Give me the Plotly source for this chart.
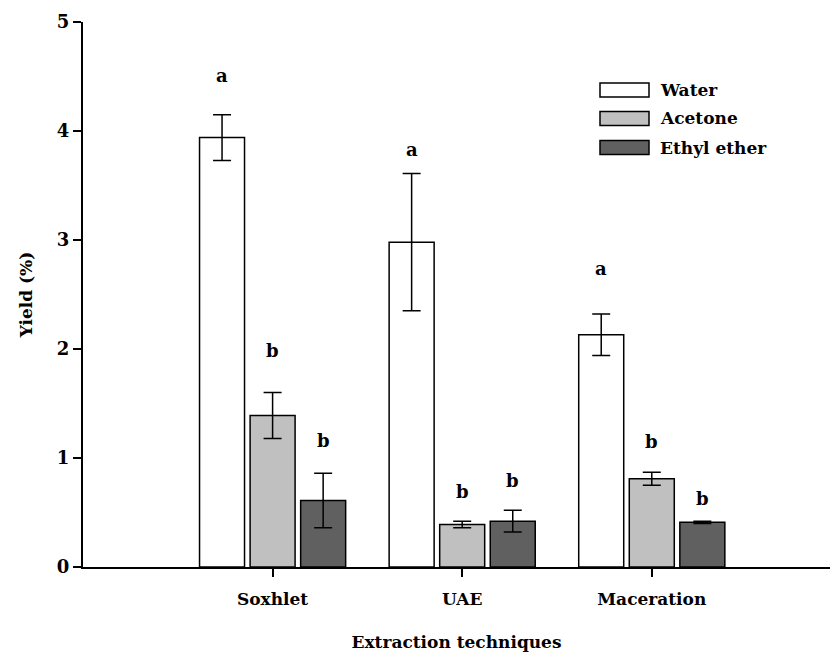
import plotly.graph_objects as go

categories = ["Soxhlet", "UAE", "Maceration"]
series_names = ["Water", "Acetone", "Ethyl ether"]
water = [3.94, 2.98, 2.13]
water_err = [0.21, 0.63, 0.19]
acetone = [1.39, 0.39, 0.81]
acetone_err = [0.21, 0.03, 0.06]
ethyl = [0.61, 0.42, 0.41]
ethyl_err = [0.25, 0.10, 0.01]
letters_water = ["a", "a", "a"]
letters_acetone = ["b", "b", "b"]
letters_ethyl = ["b", "b", "b"]
letter_y_water = [4.51, 3.83, 2.74]
letter_y_acetone = [1.99, 0.69, 1.15]
letter_y_ethyl = [1.16, 0.79, 0.63]
y_ticks = [0, 1, 2, 3, 4, 5]

colors = ["#ffffff", "#c0c0c0", "#606060"]
FONT = "DejaVu Serif"

W, H = 830, 652
L, R, T, B = 83, 0, 22, 85
plot_w = W - L - R
plot_h = H - T - B
py_bottom = H - B

fig = go.Figure()
values = [water, acetone, ethyl]
errs = [water_err, acetone_err, ethyl_err]
for name, v, e, c in zip(series_names, values, errs, colors):
    fig.add_trace(go.Bar(
        name=name, x=categories, y=v,
        marker=dict(color=c, line=dict(color="black", width=1.5)),
        error_y=dict(type="data", array=e, visible=True, color="black",
                     thickness=1.5, width=9),
        showlegend=False,
    ))

xr = [-1.0, 2.94]
cat_px = plot_w / (xr[1] - xr[0])
slot = cat_px * 0.8 / 3

annotations = []
for j, (lets, ly) in enumerate([(letters_water, letter_y_water),
                                (letters_acetone, letter_y_acetone),
                                (letters_ethyl, letter_y_ethyl)]):
    for cat, t, y in zip(categories, lets, ly):
        annotations.append(dict(
            x=cat, y=y, xref="x", yref="y", text=t, showarrow=False,
            xshift=(j - 1) * slot, yanchor="middle",
            font=dict(family=FONT, size=18, color="black", weight="bold"),
        ))

shapes = []
leg_y = [90, 118.5, 147.5]
for name, c, py in zip(series_names, colors, leg_y):
    y0 = (py_bottom - (py + 7)) / plot_h
    y1 = (py_bottom - (py - 7)) / plot_h
    x0 = (600 - L) / plot_w
    x1 = (649 - L) / plot_w
    shapes.append(dict(type="rect", xref="paper", yref="paper",
                       x0=x0, x1=x1, y0=y0, y1=y1,
                       fillcolor=c, line=dict(color="black", width=1.5)))
    annotations.append(dict(
        x=(658 - L) / plot_w, y=(py_bottom - py) / plot_h, xref="paper", yref="paper",
        text=name, showarrow=False, xanchor="left", yanchor="middle",
        font=dict(family=FONT, size=17, color="black", weight="bold"),
    ))

fig.update_layout(
    width=W, height=H,
    margin=dict(l=L, r=R, t=T, b=B),
    paper_bgcolor="white", plot_bgcolor="white",
    barmode="group", bargap=0.2, bargroupgap=0.11,
    font=dict(family=FONT, color="black"),
    annotations=annotations, shapes=shapes,
    xaxis=dict(
        range=xr, showline=True, linecolor="black", linewidth=2,
        ticks="outside", ticklen=8, tickwidth=1.5, tickcolor="black",
        ticklabelstandoff=8, automargin=False,
        showgrid=False, zeroline=False,
        tickfont=dict(family=FONT, size=17, color="black", weight="bold"),
        title=dict(text="Extraction techniques", standoff=31,
                   font=dict(family=FONT, size=17, color="black", weight="bold")),
    ),
    yaxis=dict(
        range=[0, 5], tickvals=y_ticks, showline=True, linecolor="black", linewidth=2,
        ticks="outside", ticklen=8, tickwidth=1.5, tickcolor="black",
        automargin=False,
        showgrid=False, zeroline=False,
        tickfont=dict(family=FONT, size=18, color="black", weight="bold"),
        title=dict(text="Yield (%)", standoff=20,
                   font=dict(family=FONT, size=17, color="black", weight="bold")),
    ),
)

fig.write_html("out.html", config={"displayModeBar": False},
               post_script="document.documentElement.style.overflow='hidden';"
                           "document.body.style.margin='0';document.body.style.overflow='hidden';")
